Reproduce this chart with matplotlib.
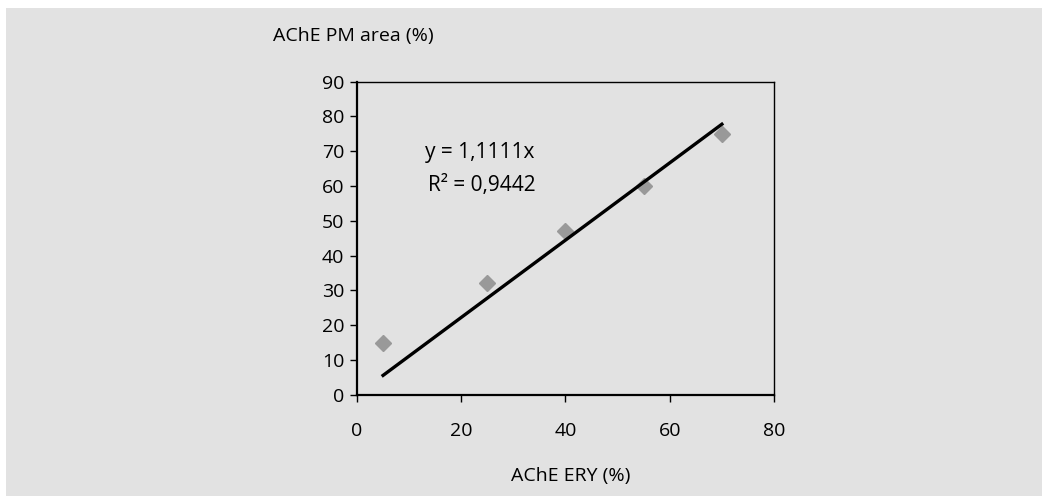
import matplotlib
matplotlib.use("Agg")
import matplotlib.pyplot as plt
from matplotlib.patches import Rectangle

# Measured values
ery = [5, 25, 40, 55, 70]
pm_area = [15, 32, 47, 60, 75]
slope = 1.1111
r_squared = 0.9442

plt.rcParams['font.family'] = ['Open Sans', 'DejaVu Sans']

bg = '#e2e2e2'
fig = plt.figure(figsize=(10.42, 4.96), dpi=100)
fig.patch.set_facecolor('white')
fig.patches.append(Rectangle((6 / 1042, 0), 1 - 6 / 1042, 1 - 8 / 496,
                             transform=fig.transFigure, facecolor=bg,
                             edgecolor='none', zorder=-10))

ax = fig.add_axes([0.3426, 0.2042, 0.4002, 0.6311])
ax.set_facecolor(bg)

ax.plot(ery, pm_area, linestyle='none', marker='D', markersize=8,
        color='#999999', zorder=3)

x_fit = [min(ery), max(ery)]
y_fit = [slope * v for v in x_fit]
ax.plot(x_fit, y_fit, color='black', linewidth=2.4, zorder=4)

ax.set_xlim(0, 80)
ax.set_ylim(0, 90)
ax.set_xticks([0, 20, 40, 60, 80])
ax.set_yticks(range(0, 91, 10))
ax.spines['left'].set_linewidth(1.6)
ax.spines['bottom'].set_linewidth(1.6)
ax.spines['top'].set_linewidth(1.0)
ax.spines['right'].set_linewidth(1.0)
ax.tick_params(axis='both', labelsize=14, width=1.0, length=5, direction='out')
ax.tick_params(axis='x', pad=15)
ax.tick_params(axis='y', pad=4)

ax.text(0.163, 0.775, f"y = {slope:.4f}x".replace('.', ','), transform=ax.transAxes,
        fontsize=15, va='center', ha='left')
ax.text(0.170, 0.667, f"R\u00b2 = {r_squared:.4f}".replace('.', ','), transform=ax.transAxes,
        fontsize=15, va='center', ha='left')

fig.text(353 / 1042, 1 - 36 / 496, "AChE PM area (%)", fontsize=14,
         ha='center', va='center')
fig.text(571 / 1042, 1 - 476 / 496, "AChE ERY (%)", fontsize=14,
         ha='center', va='center')

fig.savefig('out.png', dpi=100, facecolor=fig.get_facecolor())
